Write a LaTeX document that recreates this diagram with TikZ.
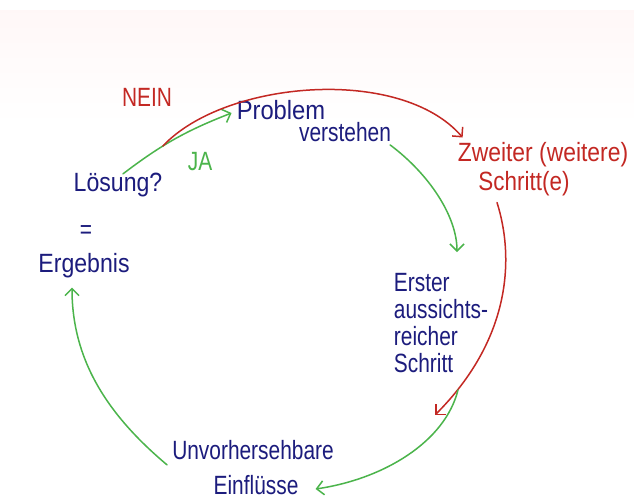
\documentclass[tikz,border=0pt]{standalone}
\usepackage{fontspec}
\setmainfont{Liberation Sans}
\usetikzlibrary{arrows.meta,calc}
\definecolor{ink}{RGB}{28,28,125}
\definecolor{redink}{RGB}{195,40,35}
\definecolor{greenink}{RGB}{75,180,75}
\newcommand{\hw}[2][0.95]{\scalebox{#1}[1.2]{#2}}
\begin{document}
\begin{tikzpicture}[x=1pt,y=-1pt,
  txt/.style={inner sep=1pt, font=\fontsize{22}{22}\selectfont},
  bluetext/.style={txt, text=ink},
  redtext/.style={txt, text=redink},
  greentext/.style={txt, text=greenink},
  garrow/.style={draw=greenink, line width=1.5pt, line cap=round, -{Straight Barb[length=7pt,width=14pt]}},
  rarrow/.style={draw=redink, line width=1.5pt, line cap=round, -{Straight Barb[length=7pt,width=14pt]}}]
\useasboundingbox (0,0) rectangle (634,501);
\fill[white] (0,0) rectangle (634,501);
\shade[top color=red!3, bottom color=white] (0,10) rectangle (634,125);

\node[bluetext] (problem) at (281,110) {\hw[1.08]{Problem}};
\node[bluetext] (verstehen) at (345,132) {\hw{verstehen}};
\node[redtext] (zweiter) at (543,155) {\hw[1.04]{Zweiter (weitere)}};
\node[redtext] (schritte) at (524,184) {\hw[1.02]{Schritt(e)}};
\node[bluetext] (loesung) at (118,185) {\hw[1.05]{Lösung?}};
\node[bluetext] (gleich) at (86,232) {\hw{=}};
\node[bluetext] (ergebnis) at (84,266) {\hw[1.05]{Ergebnis}};
\node[bluetext] (erster) at (441,327) {\hw{\begin{tabular}{@{}l@{}}Erster\\aussichts-\\reicher\\Schritt\end{tabular}}};
\node[bluetext] (unvorh) at (253,450) {\hw{Unvorhersehbare}};
\node[bluetext] (einfl) at (256,485) {\hw{Einflüsse}};
\node[redtext] (nein) at (147,97) {\hw{NEIN}};
\node[greentext] (ja) at (200,162) {\hw{JA}};

\draw[garrow] ($(loesung.north)+(5,2)$) to[bend left=8] coordinate[pos=0.38] (split) ($(problem.west)+(-4,3)$);
\draw[rarrow] (split) .. controls +(62,-66) and +(-62,-72) .. ($(zweiter.north west)+(6,-4)$);
\draw[garrow] ($(verstehen.south east)+(-2,2)$) .. controls +(40,30) and +(0,-35) .. ($(erster.north)+(16,-20)$);
\draw[rarrow] ($(schritte.south)+(-27,5)$) .. controls +(18,57) and +(75,-75) .. (435,415);
\draw[garrow] ($(erster.south)+(17,8)$) .. controls +(-13,52) and +(68,-10) .. ($(einfl.east)+(16,4)$);
\draw[garrow] ($(unvorh.south west)+(-4,4)$) .. controls +(-57,-48) and +(0,75) .. ($(ergebnis.south)+(-12,8)$);
\end{tikzpicture}
\end{document}
